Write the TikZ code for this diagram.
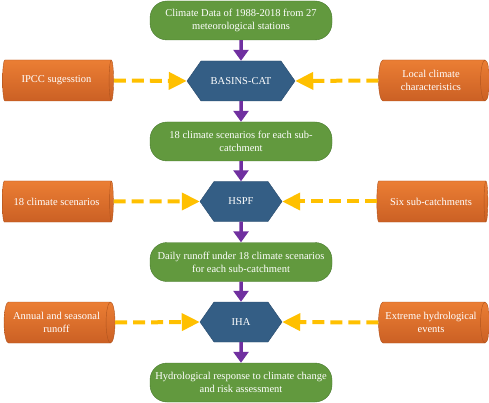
\documentclass[tikz,border=0pt]{standalone}
\usepackage{fontspec}
\setmainfont{Liberation Serif}
\usetikzlibrary{shapes.geometric,shapes.symbols,arrows.meta}

\definecolor{stepgreen}{RGB}{98,153,62}
\definecolor{stepgreenline}{RGB}{72,122,46}
\definecolor{toolblue}{RGB}{52,94,133}
\definecolor{toolblueline}{RGB}{40,74,108}
\definecolor{inorange}{RGB}{235,126,52}
\definecolor{inorangedark}{RGB}{203,96,36}
\definecolor{inorangeline}{RGB}{176,84,30}
\definecolor{feedyellow}{RGB}{255,192,0}
\definecolor{flowpurple}{RGB}{112,48,160}

\begin{document}
\begin{tikzpicture}[x=1pt,y=-1pt,
    every node/.style={text=white, font=\fontsize{10.5}{13}\selectfont, align=center},
    databox/.style={draw=stepgreenline, fill=stepgreen, rounded corners=17pt,
      minimum width=182pt, minimum height=39pt, inner sep=1pt},
    toolbox/.style={signal, signal to=west and east, signal pointer angle=110,
      draw=toolblueline, fill=toolblue, minimum height=40pt, inner sep=1pt},
    inbox/.style={cylinder, draw=inorangeline, top color=inorange, bottom color=inorangedark,
      aspect=0.4, minimum width=41pt, minimum height=111pt, inner sep=1pt},
    flow/.style={draw=flowpurple, line width=3.5pt, -{Triangle[length=11pt,width=15pt]}},
    feed/.style={draw=feedyellow, line width=4pt, dash pattern=on 12pt off 6pt,
      -{Triangle[length=18pt,width=17pt]}}]
      \useasboundingbox (0,0) rectangle (489,403);

      % climate data and BASINS-CAT
      \node (data) at (241,20.5) [databox] {Climate Data of 1988-2018 from 27\\meteorological stations};
      \node (basins) at (241,81) [toolbox, minimum width=108pt] {BASINS-CAT};
      \node (ipcc) at (56.5,80.5) [inbox] {IPCC sugesstion};
      \node (local) at (431,80.5) [inbox] {Local climate\\characteristics};

      % scenarios and HSPF
      \node (scen) at (241,141.5) [databox] {18 climate scenarios for each sub-\\catchment};
      \node (hspf) at (241,201.5) [toolbox, minimum width=82pt] {HSPF};
      \node (scenin) at (56.5,201.5) [inbox] {18 climate scenarios};
      \node (subs) at (431,201.5) [inbox] {Six sub-catchments};

      % runoff and IHA
      \node (runoff) at (241,262) [databox] {Daily runoff under 18 climate scenarios\\for each sub-catchment};
      \node (iha) at (241,322) [toolbox, minimum width=82pt] {IHA};
      \node (annual) at (56.5,322.5) [inbox] {Annual and seasonal\\runoff};
      \node (extreme) at (431,322.5) [inbox] {Extreme hydrological\\events};

      \node (resp) at (241,382.5) [databox] {Hydrological response to climate change\\and risk assessment};

      \draw[flow] (data) to (basins);
      \draw[flow] (basins) to (scen);
      \draw[flow] (scen) to (hspf);
      \draw[flow] (hspf) to (runoff);
      \draw[flow] (runoff) to (iha);
      \draw[flow] (iha) to (resp);

      \draw[feed] (ipcc.east) to (basins.west);
      \draw[feed] (local.west) to (basins.east);
      \draw[feed] (scenin.east) to (hspf.west);
      \draw[feed] (subs.west) to (hspf.east);
      \draw[feed] (annual.east) to (iha.west);
      \draw[feed] (extreme.west) to (iha.east);
    \end{tikzpicture}
\end{document}
